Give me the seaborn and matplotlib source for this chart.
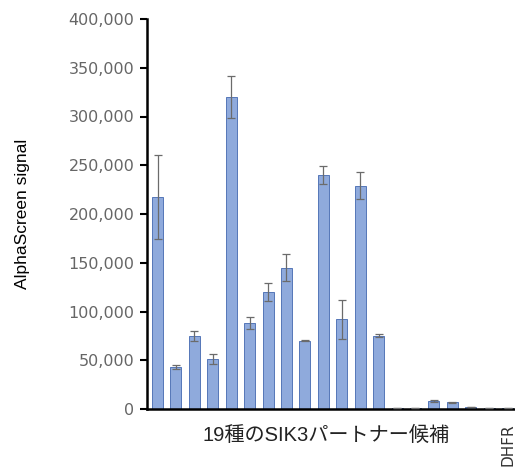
import numpy as np
import pandas as pd
import matplotlib
matplotlib.use("Agg")
import matplotlib.pyplot as plt
import matplotlib.ticker as mticker
import seaborn as sns

# データ
candidates = [str(i) for i in range(1, 20)] + ["DHFR"]
signal = [217000, 43000, 75000, 51000, 320000, 88000, 120000, 145000, 70000,
          240000, 92000, 229000, 75000, 1000, 1000, 8000, 7000, 2000, 1000, 1000]
err = [43000, 2000, 5000, 5000, 22000, 6000, 9000, 14000, 500,
       9000, 20000, 14000, 1500, 200, 200, 1000, 500, 300, 200, 200]
tick_labels = [""] * 19 + ["DHFR"]
y_ticks = [0, 50000, 100000, 150000, 200000, 250000, 300000, 350000, 400000]

df = pd.DataFrame({"candidate": candidates, "signal": signal, "err": err})

sns.set_style("white")
plt.rcParams["font.family"] = ["DejaVu Sans", "Noto Sans CJK JP"]

fig = plt.figure(figsize=(5.15, 4.70), dpi=100)
ax = fig.add_axes([147 / 515, 61 / 470, 368 / 515, 390 / 470])

sns.barplot(data=df, x="candidate", y="signal", color="#8FAADC", saturation=1,
            edgecolor="#5577B8", linewidth=0.7, width=0.6, ax=ax)
ax.errorbar(np.arange(len(df)), df["signal"], yerr=df["err"], fmt="none",
            ecolor="#6b6b6b", elinewidth=0.9, capsize=3, capthick=0.9, zorder=3)

ax.set_xlim(-0.57, 19.4)
ax.set_ylim(0, 400000)
ax.set_yticks(y_ticks)
ax.yaxis.set_major_formatter(mticker.StrMethodFormatter("{x:,.0f}"))
ax.tick_params(axis="y", labelsize=11.5, labelcolor="#666666", length=5, width=1.5,
               direction="out", left=True, color="black", pad=4)
ax.set_xticks(range(len(df)))
ax.set_xticklabels(tick_labels, rotation=90, fontsize=11, color="#333333")
ax.tick_params(axis="x", length=0, pad=10)

for s in ["top", "right"]:
    ax.spines[s].set_visible(False)
for s in ["left", "bottom"]:
    ax.spines[s].set_color("black")
    ax.spines[s].set_linewidth(1.8)

ax.set_ylabel("AlphaScreen signal", fontsize=12.5, family=["Liberation Sans"], color="black")
ax.yaxis.set_label_coords(-0.318, 0.5)
ax.set_xlabel("19種のSIK3パートナー候補", fontsize=14.5,
              family=["Liberation Sans", "Noto Sans CJK JP"], color="#222222")
ax.xaxis.set_label_coords(0.486, -0.042)

fig.savefig("out.png", dpi=100)
